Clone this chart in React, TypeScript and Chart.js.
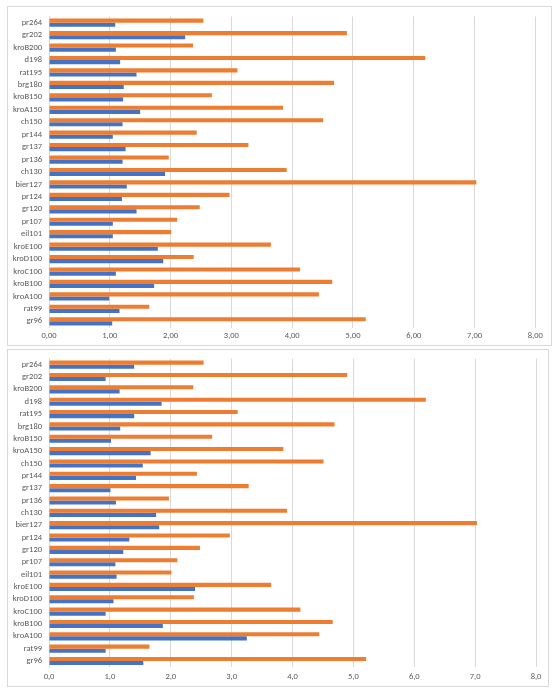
import React, { useEffect, useRef } from 'react';
import { Chart, registerables } from 'chart.js';

Chart.register(...registerables);

// TSP instances, listed bottom-to-top as they appear on the category axis
const instances = [
  'gr96', 'rat99', 'kroA100', 'kroB100', 'kroC100', 'kroD100', 'kroE100', 'eil101',
  'pr107', 'gr120', 'pr124', 'bier127', 'ch130', 'pr136', 'gr137', 'pr144', 'ch150',
  'kroA150', 'kroB150', 'brg180', 'rat195', 'd198', 'kroB200', 'gr202', 'pr264',
];

// Orange series (shared by both panels)
const orangeValues = [
  5.21, 1.65, 4.44, 4.66, 4.13, 2.38, 3.65, 2.01, 2.11, 2.48, 2.97, 7.03, 3.91,
  1.97, 3.28, 2.43, 4.51, 3.85, 2.68, 4.69, 3.10, 6.19, 2.37, 4.90, 2.54,
];

// Blue series, upper panel
const blueUpper = [
  1.04, 1.16, 0.99, 1.73, 1.10, 1.88, 1.79, 1.05, 1.05, 1.44, 1.20, 1.28, 1.91,
  1.21, 1.26, 1.05, 1.21, 1.50, 1.22, 1.23, 1.44, 1.17, 1.10, 2.24, 1.09,
];

// Blue series, lower panel
const blueLower = [
  1.55, 0.93, 3.25, 1.87, 0.93, 1.06, 2.40, 1.11, 1.09, 1.22, 1.32, 1.81, 1.76,
  1.10, 1.01, 1.43, 1.54, 1.67, 1.02, 1.17, 1.40, 1.85, 1.16, 0.93, 1.40,
];

const axisMin = 0;
const axisMax = 8;
const axisStep = 1;

const ORANGE = '#ED7D31';
const BLUE = '#4472C4';
const GRID = '#d9d9d9';
const TEXT = '#595959';
const FONT = 'Calibri, Carlito, "Open Sans", sans-serif';
const FONT_SIZE = 8.5;

type PanelProps = {
  blue: number[];
  decimals: number;
  width: number;
  height: number;
  left: number;
  top: number;
  pad: { top: number; right: number; bottom: number };
  xAxisHeight: number;
  xTickPad: number;
};

function BarPanel({ blue, decimals, width, height, left, top, pad, xAxisHeight, xTickPad }: PanelProps) {
  const ref = useRef<HTMLCanvasElement | null>(null);

  useEffect(() => {
    if (!ref.current) return;
    const shared = { categoryPercentage: 0.66, barPercentage: 1 };
    const chart = new Chart(ref.current, {
      type: 'bar',
      data: {
        labels: instances,
        datasets: [
          { label: 'orange', data: orangeValues, backgroundColor: ORANGE, ...shared },
          { label: 'blue', data: blue, backgroundColor: BLUE, ...shared },
        ],
      },
      options: {
        indexAxis: 'y',
        animation: false,
        responsive: false,
        maintainAspectRatio: false,
        layout: { padding: { top: pad.top, right: pad.right, bottom: pad.bottom, left: 0 } },
        plugins: { legend: { display: false }, tooltip: { enabled: false } },
        scales: {
          x: {
            min: axisMin,
            max: axisMax,
            ticks: {
              stepSize: axisStep,
              color: TEXT,
              font: { family: FONT, size: FONT_SIZE },
              padding: xTickPad,
              maxRotation: 0,
              callback: (v: any) => Number(v).toFixed(decimals).replace('.', ','),
            },
            grid: { color: GRID, drawTicks: false },
            border: { display: false },
            afterFit: (scale: any) => {
              scale.height = xAxisHeight;
              scale.paddingLeft = 0;
              scale.paddingRight = 0;
            },
          },
          y: {
            reverse: true,
            grid: { display: false, drawTicks: false },
            border: { display: true, color: GRID },
            ticks: {
              color: TEXT,
              font: { family: FONT, size: FONT_SIZE },
              padding: 7,
              autoSkip: false,
            },
            afterFit: (scale: any) => {
              scale.width = 41;
              scale.paddingTop = 0;
              scale.paddingBottom = 0;
            },
          },
        },
      },
    });
    return () => chart.destroy();
  }, [blue, decimals, pad.top, pad.right, pad.bottom, xAxisHeight, xTickPad]);

  return (
    <div
      style={{
        position: 'absolute',
        left,
        top,
        width,
        height,
        border: `1px solid ${GRID}`,
        background: '#fff',
      }}
    >
      <canvas ref={ref} width={width} height={height} style={{ display: 'block' }} />
    </div>
  );
}

export default function App() {
  return (
    <div style={{ position: 'absolute', left: 0, top: 0, width: 555, height: 688, background: '#fff' }}>
      <BarPanel
        blue={blueUpper}
        decimals={2}
        left={7}
        top={6}
        width={543}
        height={338}
        pad={{ top: 9.5, right: 15.7, bottom: 3.5 }}
        xAxisHeight={14}
        xTickPad={3.4}
      />
      <BarPanel
        blue={blueLower}
        decimals={1}
        left={7}
        top={349}
        width={540}
        height={336}
        pad={{ top: 8.5, right: 12, bottom: 2.8 }}
        xAxisHeight={16}
        xTickPad={5}
      />
    </div>
  );
}
